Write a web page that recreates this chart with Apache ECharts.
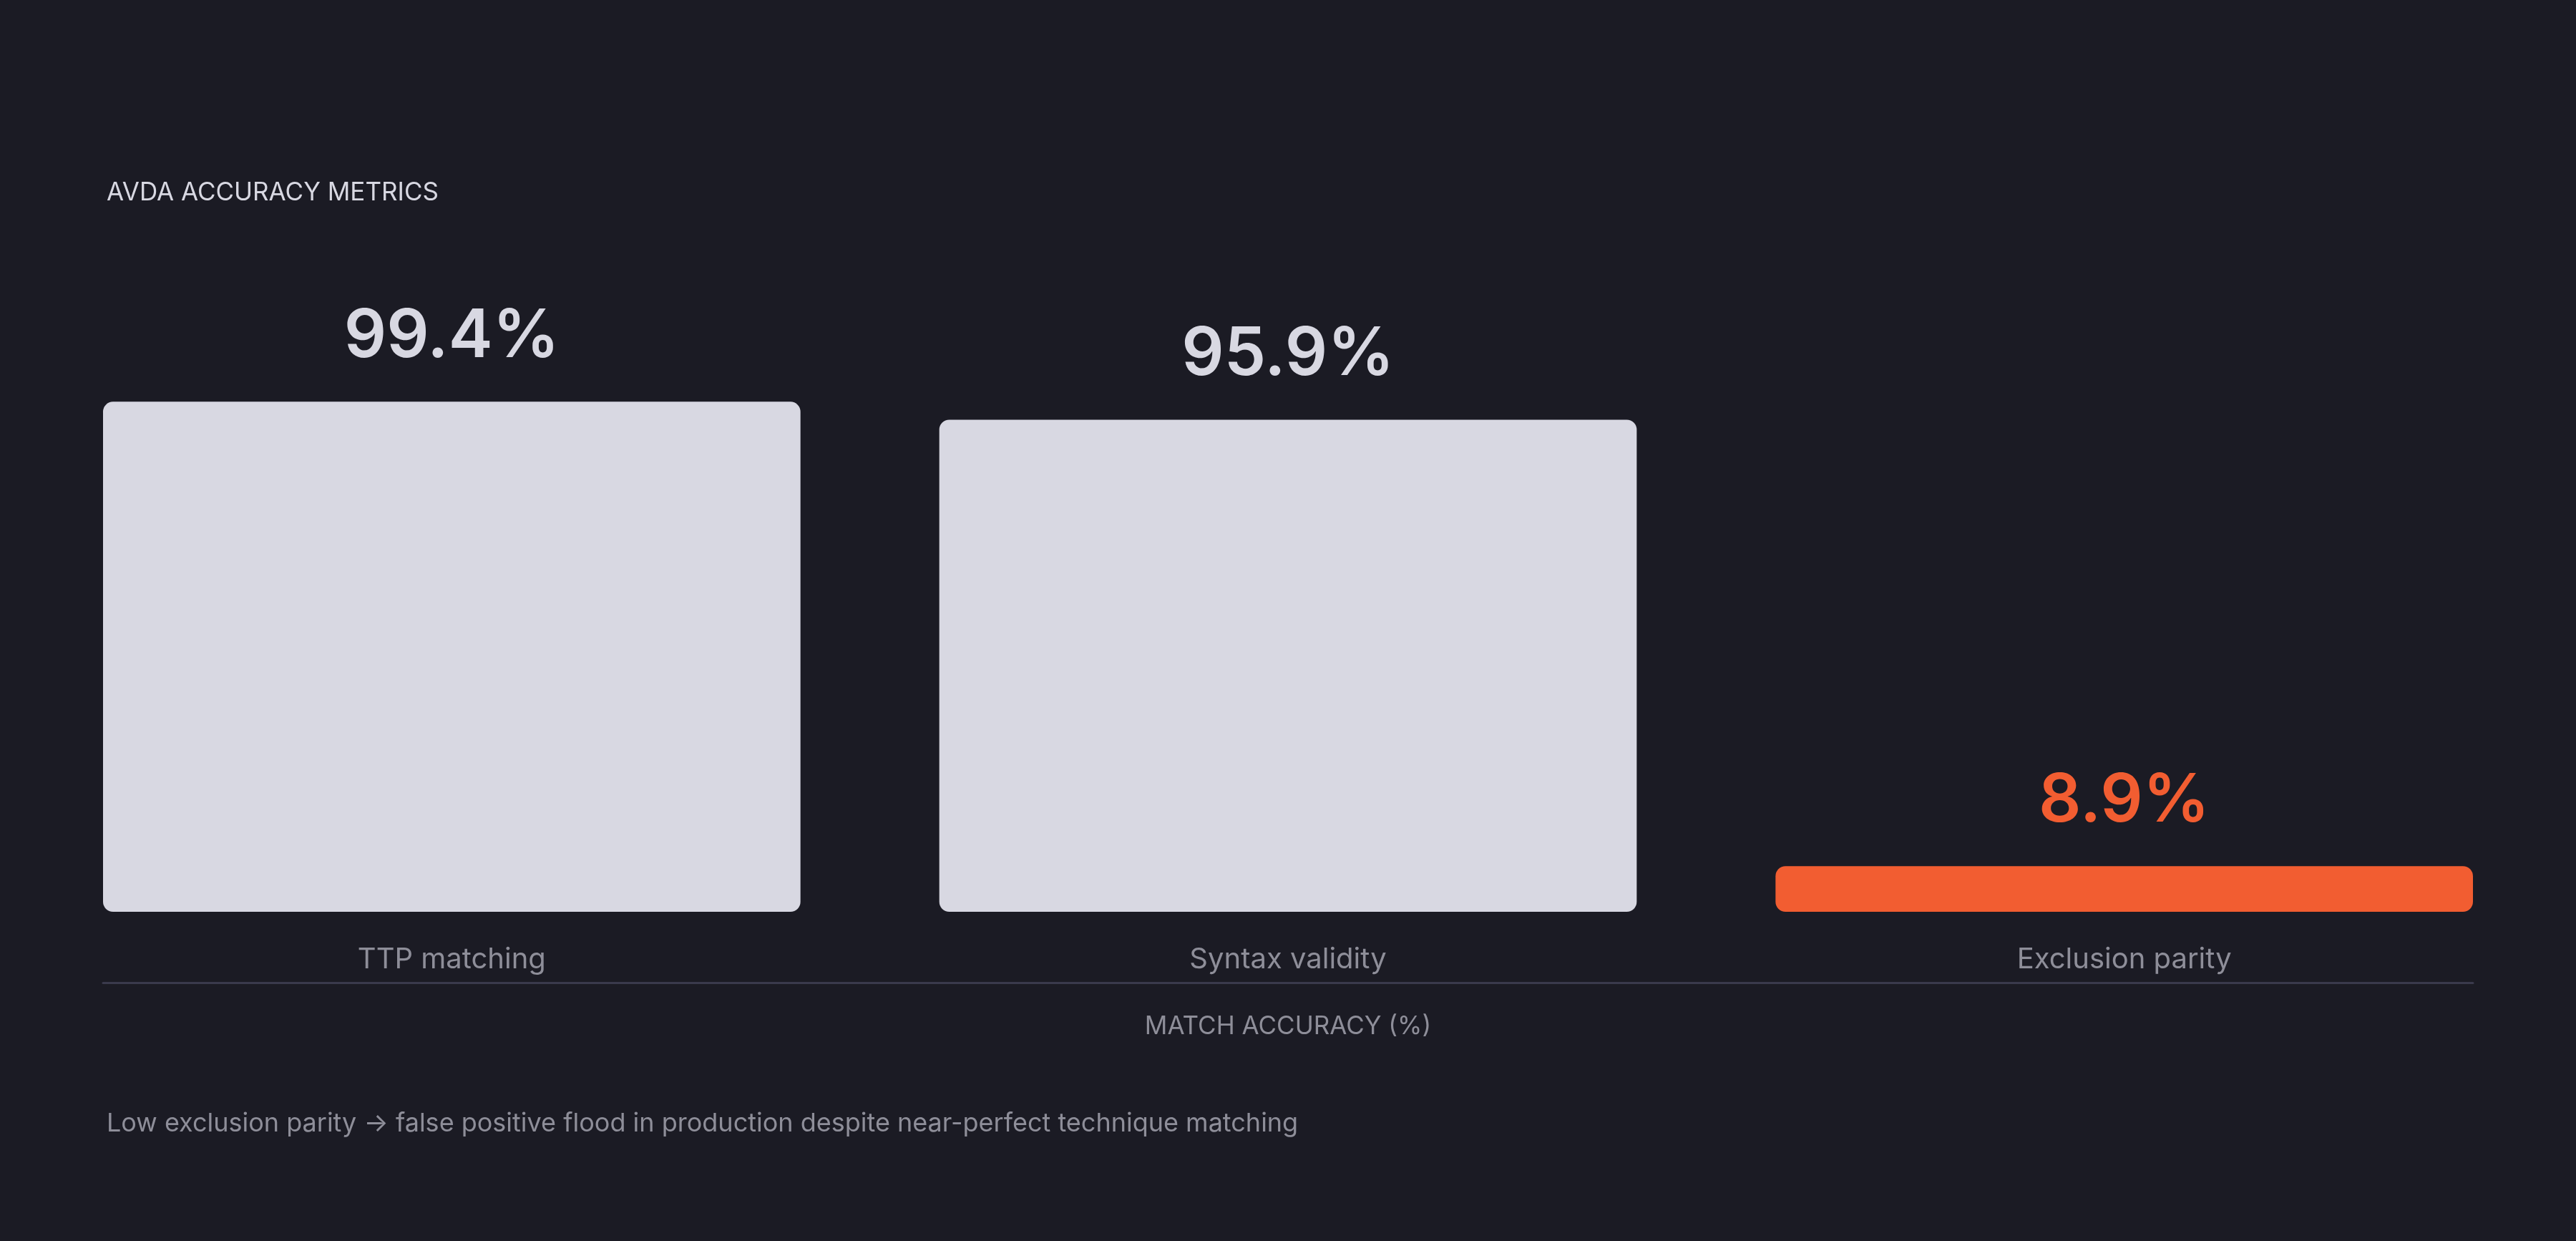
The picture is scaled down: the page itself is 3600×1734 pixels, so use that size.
<!DOCTYPE html>
<html>
<head>
<meta charset="utf-8">
<script src="https://cdn.jsdelivr.net/npm/echarts@6/dist/echarts.min.js"></script>
<style>
html,body{margin:0;padding:0;background:#1b1b24;}
#chart{width:3600px;height:1734px;}
</style>
</head>
<body>
<div id="chart"></div>
<script>
const categories = ['TTP matching', 'Syntax validity', 'Exclusion parity'];
const accuracyValues = [99.4, 95.9, 8.9];
const barColors = ['#d8d8e2', '#d8d8e2', '#f25d31'];
const titleText = 'AVDA ACCURACY METRICS';
const axisTitle = 'MATCH ACCURACY (%)';
const footnote = 'Low exclusion parity \u2192 false positive flood in production despite near-perfect technique matching';

const FONT = 'Inter, "Noto Sans", sans-serif';

const chart = echarts.init(document.getElementById('chart'), null, {renderer: 'canvas'});
chart.setOption({
  backgroundColor: '#1b1b24',
  animation: false,
  title: [
    {
      text: titleText, left: 144, top: 247,
      textStyle: {color: '#d8d8e2', fontFamily: FONT, fontSize: 35, fontWeight: 400}
    },
    {
      text: footnote, left: 144, top: 1547,
      textStyle: {color: '#8e8e99', fontFamily: FONT, fontSize: 36, fontWeight: 400}
    }
  ],
  grid: [
    {left: 47, right: 47, top: 557, bottom: 460},
    {left: 144, right: 144, top: 557, bottom: 460}
  ],
  xAxis: [
    {
      type: 'category', gridIndex: 0, data: categories,
      axisLine: {show: false}, axisTick: {show: false},
      axisLabel: {color: '#8e8e99', fontFamily: FONT, fontSize: 40, margin: 47}
    },
    {
      type: 'category', gridIndex: 1, data: categories, offset: 99,
      axisLine: {show: true, onZero: false, lineStyle: {color: '#3a3a4c', width: 3}},
      axisTick: {show: false}, axisLabel: {show: false},
      name: axisTitle, nameLocation: 'middle', nameGap: 44,
      nameTextStyle: {color: '#8e8e99', fontFamily: FONT, fontSize: 35}
    }
  ],
  yAxis: [
    {type: 'value', gridIndex: 0, min: 0, max: 100, show: false},
    {type: 'value', gridIndex: 1, min: 0, max: 100, show: false}
  ],
  series: [{
    type: 'bar', xAxisIndex: 0, yAxisIndex: 0,
    barCategoryGap: '16.6%',
    data: accuracyValues.map((v, i) => ({
      value: v,
      itemStyle: {color: barColors[i], borderRadius: 14},
      label: {color: barColors[i]}
    })),
    label: {
      show: true, position: 'top', distance: 44,
      fontFamily: FONT, fontSize: 93, fontWeight: 600,
      formatter: p => p.value.toFixed(1) + '%'
    }
  }]
});
</script>
</body>
</html>
